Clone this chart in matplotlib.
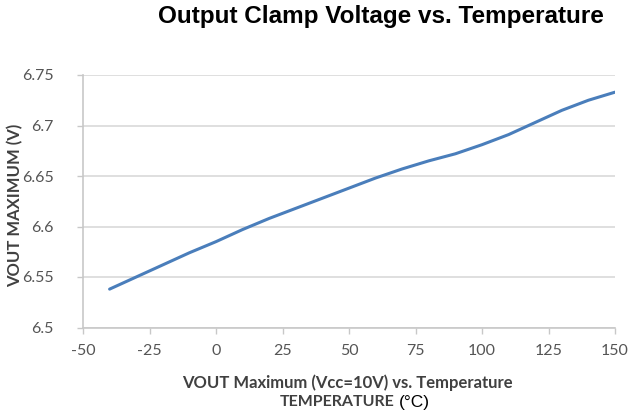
import matplotlib
matplotlib.use("Agg")
import matplotlib.pyplot as plt

# temperature (C) and VOUT maximum (V)
temp = [-40, -30, -20, -10, 0, 10, 20, 30, 40, 50, 60, 70, 80, 90, 100, 110, 120, 130, 140, 150]
vout = [6.538, 6.550, 6.562, 6.574, 6.585, 6.597, 6.608, 6.618, 6.628, 6.638,
        6.648, 6.657, 6.665, 6.672, 6.681, 6.691, 6.703, 6.715, 6.725, 6.733]

xticks = [-50, -25, 0, 25, 50, 75, 100, 125, 150]
xlabels = ["-50", "-25", "0", "25", "50", "75", "100", "125", "150"]
yticks = [6.5, 6.55, 6.6, 6.65, 6.7, 6.75]
ylabels = ["6.5", "6.55", "6.6", "6.65", "6.7", "6.75"]

W, H = 633, 416
fig = plt.figure(figsize=(W / 100, H / 100), dpi=100)
ax = fig.add_axes([83 / W, 1 - 327.5 / H, (615 - 83) / W, (327.5 - 75) / H])

ax.plot(temp, vout, color="#4a7ebb", lw=2.2, solid_capstyle="round")

ax.set_xlim(-50, 150)
ax.set_ylim(6.5, 6.75)
ax.set_xticks(xticks)
ax.set_xticklabels(xlabels)
ax.set_yticks(yticks)
ax.set_yticklabels(ylabels)
ax.grid(axis="y", color="#d9d9d9", lw=1.2)
ax.set_axisbelow(True)
for s in ["top", "right"]:
    ax.spines[s].set_visible(False)
for s in ["left", "bottom"]:
    ax.spines[s].set_color("#c8c8c8")
    ax.spines[s].set_linewidth(1.2)
ax.tick_params(axis="both", colors="#c8c8c8", labelcolor="#555555", labelsize=11.5, length=4, width=1)
for lab in ax.get_xticklabels() + ax.get_yticklabels():
    lab.set_family("Lato")
ax.tick_params(axis="x", pad=8)
ax.tick_params(axis="y", pad=17)

fig.text(604 / W, 1 - 16 / H, "Output Clamp Voltage vs. Temperature", ha="right", va="center",
         family="Liberation Sans", fontweight="bold", fontsize=17.5, color="black")
fig.text(15 / W, 1 - 205 / H, "VOUT MAXIMUM (V)", rotation=90, ha="center", va="center",
         family="Lato", fontweight="bold", fontsize=12, color="#404040")
fig.text(347 / W, 1 - 383 / H, "VOUT Maximum (Vcc=10V) vs. Temperature", ha="center", va="center",
         family="Lato", fontweight="bold", fontsize=12, color="#404040")
fig.text(395 / W, 1 - 402 / H, "TEMPERATURE", ha="right", va="center",
         family="Lato", fontweight="bold", fontsize=11.5, color="#404040")
fig.text(399 / W, 1 - 402 / H, "(\u00b0C)", ha="left", va="center",
         family="Liberation Sans", fontsize=12.5, color="black")

fig.savefig("out.png", dpi=100)
